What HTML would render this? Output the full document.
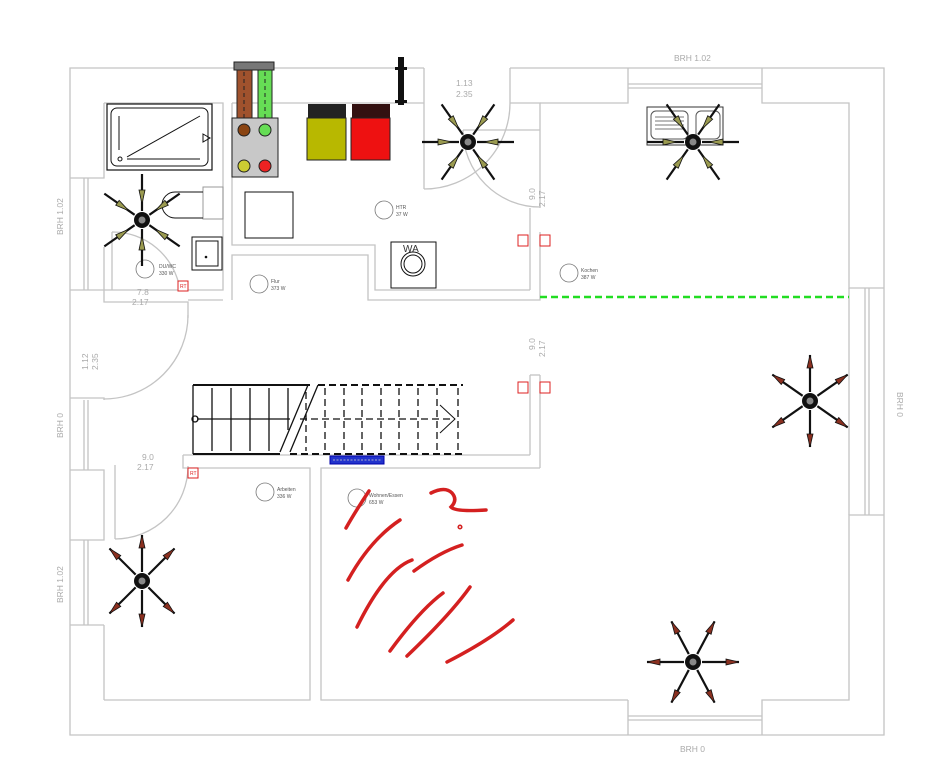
<!DOCTYPE html>
<html><head><meta charset="utf-8"><style>
html,body{margin:0;padding:0;background:#fff}
svg{display:block}
text{font-family:"Liberation Sans",sans-serif}
</style></head><body>
<svg width="948" height="764" viewBox="0 0 948 764" xmlns="http://www.w3.org/2000/svg">
<defs>
<g id="spI"><line x1="0" y1="-9" x2="0" y2="-46" stroke="#111" stroke-width="2.2"/><polygon points="0,-16 -3,-30 3,-30" fill="#9a9a50" stroke="#111" stroke-width="0.8"/></g>
<g id="spO"><line x1="0" y1="-9" x2="0" y2="-46" stroke="#111" stroke-width="2.2"/><polygon points="0,-46 -3,-33 3,-33" fill="#8a3020" stroke="#111" stroke-width="0.8"/></g>
<g id="hub"><circle r="8" fill="#111"/><circle r="3.5" fill="#888"/></g>
</defs>

<g fill="none" stroke="#c4c4c4" stroke-width="1.3">
<!-- outer -->
<polyline points="424,68 70,68 70,735 884,735 884,68 510,68"/>
<line x1="424" y1="68" x2="424" y2="103"/><line x1="510" y1="68" x2="510" y2="103"/>
<!-- left wall inner segments -->
<polyline points="104,103 104,178 70,178"/>
<polyline points="70,290 104,290 104,302 188,302 188,318"/>
<polyline points="70,398 104,398 104,400"/>
<polyline points="70,470 104,470 104,540 70,540"/>
<line x1="70" y1="625" x2="104" y2="625"/><line x1="104" y1="625" x2="104" y2="700"/>
<line x1="84" y1="178" x2="84" y2="290"/><line x1="88" y1="178" x2="88" y2="290"/>
<line x1="84" y1="400" x2="84" y2="470"/><line x1="88" y1="400" x2="88" y2="470"/>
<line x1="84" y1="540" x2="84" y2="625"/><line x1="88" y1="540" x2="88" y2="625"/>
<!-- bathroom -->
<polyline points="104,103 223,103 223,247"/>
<polyline points="104,247 104,290 178,290"/>
<polyline points="232,103 424,103"/>
<polyline points="232,103 232,245 375,245 375,290 530,290"/>
<polyline points="223,247 223,290 188,290"/>
<polyline points="232,300 232,255 368,255 368,300 530,300"/>
<polyline points="188,300 223,300"/>
<!-- kitchen -->
<polyline points="510,103 540,103 540,208"/>
<polyline points="540,103 628,103 628,68"/>
<polyline points="762,68 762,103 849,103 849,288 884,288"/>
<line x1="628" y1="84" x2="762" y2="84"/><line x1="628" y1="88" x2="762" y2="88"/>
<polyline points="530,208 530,290"/>
<polyline points="540,232 540,300 530,300"/>
<polyline points="530,375 530,455"/>
<polyline points="540,375 540,468"/>
<line x1="530" y1="375" x2="540" y2="375"/>
<line x1="849" y1="288" x2="849" y2="515"/><line x1="865" y1="288" x2="865" y2="515"/><line x1="869" y1="288" x2="869" y2="515"/>
<polyline points="884,515 849,515 849,700 762,700 762,735"/>
<line x1="628" y1="700" x2="628" y2="735"/>
<line x1="628" y1="716" x2="762" y2="716"/><line x1="628" y1="720" x2="762" y2="720"/>
<!-- hall / rooms -->
<polyline points="183,455 183,468 188,468"/>
<line x1="183" y1="455" x2="530" y2="455"/>
<polyline points="188,468 310,468 310,700 104,700"/>
<polyline points="540,468 321,468 321,700 628,700"/>
<!-- doors -->
<path d="M188,315 A84,84 0 0 1 104,399"/>
<path d="M188,466 A73,73 0 0 1 115,539"/>
<line x1="115" y1="465" x2="115" y2="539"/>
<path d="M112,232 A68,68 0 0 1 180,290"/>
<line x1="112" y1="232" x2="112" y2="290"/>
<path d="M510,103 A86,86 0 0 1 424,189"/>
<line x1="424" y1="103" x2="424" y2="189"/>
<path d="M463,130 A77,77 0 0 0 540,207"/>
<line x1="463" y1="130" x2="540" y2="130"/>
</g>

<!-- green dashed -->
<line x1="540" y1="297" x2="849" y2="297" stroke="#22dd22" stroke-width="2.5" stroke-dasharray="7,4"/>

<!-- dimension texts -->
<g fill="#aaa" font-size="8.5">
<text x="674" y="61">BRH 1.02</text>
<text x="680" y="752">BRH 0</text>
<text transform="translate(63,235) rotate(-90)">BRH 1.02</text>
<text transform="translate(63,438) rotate(-90)">BRH 0</text>
<text transform="translate(63,603) rotate(-90)">BRH 1.02</text>
<text transform="translate(897,392) rotate(90)">BRH 0</text>
<text x="456" y="86">1.13</text><text x="456" y="97">2.35</text>
<text x="137" y="295">7.8</text><text x="132" y="305">2.17</text>
<text x="142" y="460">9.0</text><text x="137" y="470">2.17</text>
<text transform="translate(535,200) rotate(-90)">9.0</text>
<text transform="translate(545,207) rotate(-90)">2.17</text>
<text transform="translate(535,350) rotate(-90)">9.0</text>
<text transform="translate(545,357) rotate(-90)">2.17</text>
<text transform="translate(88,370) rotate(-90)">1.12</text>
<text transform="translate(98,370) rotate(-90)">2.35</text>
</g>

<!-- bathtub -->
<rect x="107" y="104" width="105" height="66" fill="none" stroke="#111" stroke-width="1.2"/>
<rect x="111" y="108" width="97" height="58" rx="6" fill="none" stroke="#111"/>
<line x1="119" y1="116" x2="119" y2="150" stroke="#111"/><line x1="127" y1="157" x2="200" y2="116" stroke="#111"/>
<line x1="127" y1="159" x2="200" y2="159" stroke="#111"/><circle cx="120" cy="159" r="2" fill="none" stroke="#111"/>
<polygon points="203,134 210,138 203,142" fill="none" stroke="#111"/>
<!-- toilet -->
<rect x="203" y="187" width="20" height="32" fill="none" stroke="#999"/>
<path d="M203,192 L175,192 A12,12 0 0 0 175,218 L203,218" fill="none" stroke="#111"/>
<!-- sink -->
<rect x="192" y="237" width="30" height="33" fill="none" stroke="#111"/>
<rect x="196" y="241" width="22" height="25" fill="none" stroke="#111"/>
<circle cx="206" cy="257" r="1.3" fill="#111"/>
<!-- heat pump -->
<rect x="234" y="62" width="40" height="8" fill="#777" stroke="#222"/>
<rect x="237" y="70" width="15" height="55" fill="#a0522d" stroke="#222"/>
<rect x="258" y="70" width="14" height="55" fill="#66dd55" stroke="#222"/>
<line x1="244" y1="72" x2="244" y2="120" stroke="#222" stroke-dasharray="4,3"/>
<line x1="265" y1="72" x2="265" y2="120" stroke="#222" stroke-dasharray="4,3"/>
<rect x="232" y="118" width="46" height="59" fill="#c8c8c8" stroke="#222"/>
<circle cx="244" cy="130" r="6" fill="#8b4513" stroke="#222"/>
<circle cx="265" cy="130" r="6" fill="#66dd55" stroke="#222"/>
<circle cx="244" cy="166" r="6" fill="#cccc33" stroke="#222"/>
<circle cx="265" cy="166" r="6" fill="#ee2222" stroke="#222"/>
<!-- tanks -->
<rect x="308" y="104" width="38" height="14" fill="#222"/>
<rect x="352" y="104" width="38" height="14" fill="#331111"/>
<rect x="307" y="118" width="39" height="42" fill="#b8b800" stroke="#222"/>
<rect x="351" y="118" width="39" height="42" fill="#ee1111" stroke="#222"/>
<rect x="398" y="57" width="6" height="48" fill="#111"/>
<rect x="395" y="67" width="12" height="3" fill="#111"/><rect x="395" y="100" width="12" height="3" fill="#111"/>
<!-- white box -->
<rect x="245" y="192" width="48" height="46" fill="none" stroke="#111"/>
<!-- WA -->
<rect x="391" y="242" width="45" height="46" fill="none" stroke="#111"/>
<text x="403" y="252" font-size="10" fill="#333">WA</text>
<circle cx="413" cy="264" r="12" fill="none" stroke="#111"/><circle cx="413" cy="264" r="9" fill="none" stroke="#111"/>
<!-- kitchen sink -->
<rect x="647" y="107" width="76" height="38" fill="none" stroke="#333"/>
<rect x="651" y="111" width="37" height="28" rx="5" fill="none" stroke="#555"/>
<rect x="696" y="111" width="24" height="28" rx="5" fill="none" stroke="#555"/>
<g stroke="#777"><line x1="655" y1="117" x2="684" y2="117"/><line x1="655" y1="121" x2="684" y2="121"/><line x1="655" y1="125" x2="684" y2="125"/><line x1="655" y1="129" x2="684" y2="129"/></g>

<!-- stairs -->
<g stroke="#111" fill="none" stroke-width="1.3">
<line x1="193" y1="385" x2="310" y2="385" stroke-width="2"/><line x1="193" y1="454" x2="280" y2="454" stroke-width="2"/>
<line x1="193" y1="385" x2="193" y2="454"/>
<line x1="212" y1="388" x2="212" y2="451"/><line x1="231" y1="388" x2="231" y2="451"/><line x1="250" y1="388" x2="250" y2="451"/><line x1="269" y1="388" x2="269" y2="451"/><line x1="288" y1="388" x2="288" y2="430"/>
<line x1="308" y1="385" x2="280" y2="452"/><line x1="318" y1="385" x2="290" y2="452"/>
<line x1="197" y1="419" x2="290" y2="419"/>
<circle cx="195" cy="419" r="3"/>
<g stroke-dasharray="7,4">
<line x1="318" y1="385" x2="463" y2="385" stroke-width="2"/><line x1="290" y1="454" x2="463" y2="454" stroke-width="2"/>
<line x1="306" y1="392" x2="306" y2="451"/><line x1="325" y1="388" x2="325" y2="451"/><line x1="344" y1="388" x2="344" y2="451"/><line x1="362" y1="388" x2="362" y2="451"/><line x1="381" y1="388" x2="381" y2="451"/><line x1="399" y1="388" x2="399" y2="451"/><line x1="418" y1="388" x2="418" y2="451"/><line x1="437" y1="388" x2="437" y2="451"/><line x1="458" y1="388" x2="458" y2="451"/>
<line x1="300" y1="419" x2="455" y2="419"/>
</g>
<polyline points="440,405 455,419 440,433" stroke-width="1"/>
</g>
<rect x="330" y="456" width="54" height="8" fill="#2233cc" stroke="#0000aa"/>
<line x1="333" y1="460" x2="381" y2="460" stroke="#aac" stroke-dasharray="2,1.5"/>

<!-- RT boxes -->
<g fill="#fff" stroke="#dd2222" stroke-width="1"><rect x="178" y="281" width="10" height="10"/><rect x="518" y="235" width="10" height="11"/><rect x="540" y="235" width="10" height="11"/><rect x="518" y="382" width="10" height="11"/><rect x="540" y="382" width="10" height="11"/><rect x="188" y="468" width="10" height="10"/></g>
<g fill="#dd2222" font-size="5"><text x="180" y="288">RT</text><text x="190" y="475">RT</text></g>

<!-- room labels -->
<g fill="none" stroke="#777" stroke-width="0.8">
<circle cx="145" cy="269" r="9"/><circle cx="259" cy="284" r="9"/><circle cx="384" cy="210" r="9"/><circle cx="569" cy="273" r="9"/><circle cx="265" cy="492" r="9"/><circle cx="357" cy="498" r="9"/>
</g>
<g fill="#555" font-size="5">
<text x="159" y="268">DU/WC</text><text x="159" y="275">330 W</text>
<text x="271" y="283">Flur</text><text x="271" y="290">373 W</text>
<text x="396" y="209">HTR</text><text x="396" y="216">37 W</text>
<text x="581" y="272">Kochen</text><text x="581" y="279">387 W</text>
<text x="277" y="491">Arbeiten</text><text x="277" y="498">336 W</text>
<text x="369" y="497">Wohnen/Essen</text><text x="369" y="504">653 W</text>
</g>

<!-- fans -->
<g transform="translate(142,220)"><use href="#spI" transform="rotate(0)"/><use href="#spI" transform="rotate(180)"/><use href="#spI" transform="rotate(55)"/><use href="#spI" transform="rotate(125)"/><use href="#spI" transform="rotate(-55)"/><use href="#spI" transform="rotate(-125)"/><use href="#hub"/></g>
<g transform="translate(468,142)"><use href="#spI" transform="rotate(90)"/><use href="#spI" transform="rotate(-90)"/><use href="#spI" transform="rotate(35)"/><use href="#spI" transform="rotate(145)"/><use href="#spI" transform="rotate(-35)"/><use href="#spI" transform="rotate(-145)"/><use href="#hub"/></g>
<g transform="translate(693,142)"><use href="#spI" transform="rotate(90)"/><use href="#spI" transform="rotate(-90)"/><use href="#spI" transform="rotate(35)"/><use href="#spI" transform="rotate(145)"/><use href="#spI" transform="rotate(-35)"/><use href="#spI" transform="rotate(-145)"/><use href="#hub"/></g>
<g transform="translate(810,401)"><use href="#spO" transform="rotate(0)"/><use href="#spO" transform="rotate(180)"/><use href="#spO" transform="rotate(55)"/><use href="#spO" transform="rotate(125)"/><use href="#spO" transform="rotate(-55)"/><use href="#spO" transform="rotate(-125)"/><use href="#hub"/></g>
<g transform="translate(142,581)"><use href="#spO" transform="rotate(0)"/><use href="#spO" transform="rotate(180)"/><use href="#spO" transform="rotate(45)"/><use href="#spO" transform="rotate(135)"/><use href="#spO" transform="rotate(-45)"/><use href="#spO" transform="rotate(-135)"/><use href="#hub"/></g>
<g transform="translate(693,662)"><use href="#spO" transform="rotate(90)"/><use href="#spO" transform="rotate(-90)"/><use href="#spO" transform="rotate(28)"/><use href="#spO" transform="rotate(152)"/><use href="#spO" transform="rotate(-28)"/><use href="#spO" transform="rotate(-152)"/><use href="#hub"/></g>

<!-- red scribbles -->
<g stroke="#d42020" stroke-width="3.5" fill="none" stroke-linecap="round">
<path d="M431,493 Q445,486 452,493 Q458,500 451,507 Q455,512 486,510"/>
<circle cx="460" cy="527" r="0.8"/>
<path d="M346,528 Q355,512 369,491"/>
<path d="M348,580 Q370,540 400,520"/>
<path d="M357,627 Q385,570 412,560"/>
<path d="M414,571 Q440,552 462,545"/>
<path d="M390,651 Q420,610 443,593"/>
<path d="M407,656 Q450,615 470,587"/>
<path d="M447,662 Q490,640 513,620"/>
</g>
</svg>
</body></html>
